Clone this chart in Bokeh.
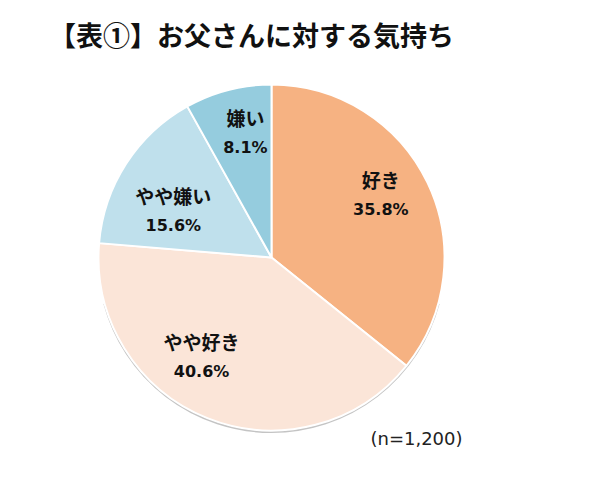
import math
from bokeh.plotting import figure
from bokeh.models import Range1d, ColumnDataSource
from bokeh.core.properties import value
from bokeh.embed import file_html
from bokeh.resources import INLINE

# ---- data ----
title_text = "【表①】お父さんに対する気持ち"
categories = ["好き", "やや好き", "やや嫌い", "嫌い"]
percents = [35.8, 40.6, 15.6, 8.1]
note_text = "(n=1,200)"

# ---- style / layout ----
colors = ["#F6B282", "#FBE5D8", "#BFE0EC", "#95CCDE"]
label_nudge_deg = [4.4, -13.5, 7.1, -2.8]
label_radius_frac = [0.73, 0.70, 0.63, 0.74]

W, H = 584, 486
cx, cy, R = 271, 229, 173

p = figure(width=W, height=H, x_range=Range1d(0, W), y_range=Range1d(0, H),
           output_backend="svg", toolbar_location=None, min_border=0)
p.axis.visible = False
p.grid.visible = False
p.outline_line_color = None
p.background_fill_color = "white"

total = sum(percents)
starts, ends, lx, ly, pct_txt = [], [], [], [], []
cum = 0.0
for i, v in enumerate(percents):
    a0 = math.pi / 2 - 2 * math.pi * cum / total
    cum += v
    a1 = math.pi / 2 - 2 * math.pi * cum / total
    starts.append(a0)
    ends.append(a1)
    mid = (a0 + a1) / 2 + math.radians(label_nudge_deg[i])
    r = R * label_radius_frac[i]
    lx.append(cx + r * math.cos(mid))
    ly.append(cy + r * math.sin(mid))
    pct_txt.append(f"{v:.1f}%")

src = ColumnDataSource(dict(start=starts, end=ends, color=colors,
                            name=categories, pct=pct_txt,
                            nx=lx, ny=[y + 15 for y in ly], py=[y - 15 for y in ly]))

# soft shadow along the lower rim
p.arc(x=cx, y=cy - 1.5, radius=R, start_angle=math.radians(195), end_angle=math.radians(345),
      line_color="#b5b5b5", line_width=2, line_alpha=0.8)

p.wedge(x=cx, y=cy, radius=R, start_angle="start", end_angle="end",
        direction="clock", fill_color="color", line_color="white", line_width=2,
        source=src)

p.text(x="nx", y="ny", text="name", source=src, text_align="center", text_baseline="middle",
       text_font=value("Noto Sans CJK JP"), text_font_size="19px", text_font_style="bold",
       text_color="#111111")
p.text(x="nx", y="py", text="pct", source=src, text_align="center", text_baseline="middle",
       text_font=value("DejaVu Sans"), text_font_size="16px", text_font_style="bold",
       text_color="#111111")

p.text(x=[251], y=[452], text=[title_text], text_align="center", text_baseline="middle",
       text_font=value("Noto Sans CJK JP"), text_font_size="27px", text_font_style="bold",
       text_color="#111111")
p.text(x=[416], y=[48], text=[note_text], text_align="center", text_baseline="middle",
       text_font=value("DejaVu Sans"), text_font_size="18px", text_color="#222222")

open("out.html", "w").write(file_html(p, INLINE))
